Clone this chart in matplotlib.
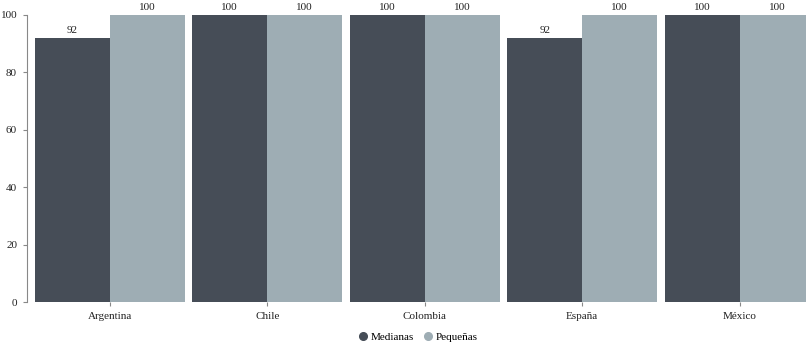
import numpy as np
import matplotlib.pyplot as plt
from matplotlib.lines import Line2D

paises = ["Argentina", "Chile", "Colombia", "España", "México"]
medianas = [92, 100, 100, 92, 100]
pequenas = [100, 100, 100, 100, 100]

COLOR_MED = "#464d57"
COLOR_PEQ = "#9eadb4"
GRIS = "#888888"

plt.rcParams["font.family"] = ["Liberation Serif", "DejaVu Serif"]
plt.rcParams["font.size"] = 8

fig = plt.figure(figsize=(8.06, 3.45), dpi=100)
ax = fig.add_axes([31 / 806, 43 / 345, 775 / 806, 287 / 345])

x = np.arange(len(paises))
ancho = 0.476

b1 = ax.bar(x - ancho / 2, medianas, ancho, color=COLOR_MED)
b2 = ax.bar(x + ancho / 2, pequenas, ancho, color=COLOR_PEQ)

# valor encima de cada barra
for barras in (b1, b2):
    for b in barras:
        ax.text(b.get_x() + b.get_width() / 2, b.get_height() + 1.2,
                f"{b.get_height():.0f}", ha="center", va="bottom",
                fontsize=8, color="#222222")

ax.set_xlim(-0.5, -0.5 + 775 / 157.5)
ax.set_ylim(0, 100)
ax.set_yticks([0, 20, 40, 60, 80, 100])
ax.set_xticks(x)
ax.set_xticklabels(paises)

for lado in ("top", "right", "bottom"):
    ax.spines[lado].set_visible(False)
ax.spines["left"].set_position(("outward", 3))
ax.spines["left"].set_color(GRIS)
ax.tick_params(axis="both", colors=GRIS, labelcolor="#222222",
               length=3, width=0.8, labelsize=8)
ax.tick_params(axis="y", pad=4)
ax.tick_params(axis="x", pad=4)

marcas = [Line2D([], [], marker="o", linestyle="", markersize=5.5, color=c)
          for c in (COLOR_MED, COLOR_PEQ)]
fig.legend(marcas, ["Medianas", "Pequeñas"], loc="center",
           bbox_to_anchor=(418 / 806, 8 / 345), ncol=2, frameon=False,
           fontsize=8, handletextpad=0.25, columnspacing=0.9,
           handlelength=0.8)

plt.savefig("out.png", dpi=100)
